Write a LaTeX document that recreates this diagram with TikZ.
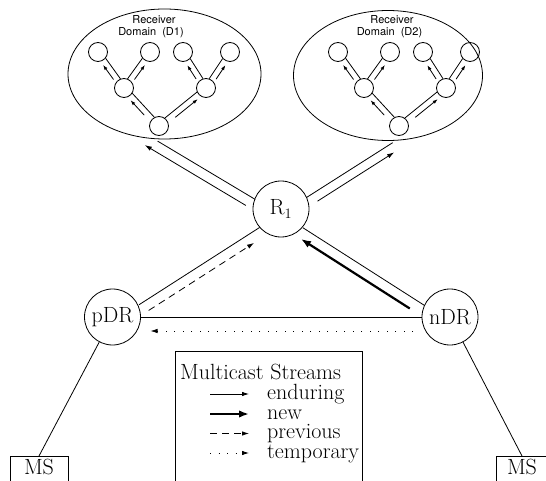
\documentclass[tikz,border=0pt]{standalone}
\usepackage{fontspec}
\newfontfamily\hvfont{TeX Gyre Heros}
\usetikzlibrary{arrows.meta,calc,shapes.geometric}
% #1 style, #2 from, #3 to, #4 offset, #5 angle at start, #6 angle at end, #7/#8 shorten (pt)
\newcommand\offedge[8]{\draw[#1,shorten <=#7pt,shorten >=#8pt] ($(#2)!#4!#5:(#3)$) -- ($(#3)!#4!#6:(#2)$);}
\tikzset{
  big/.style={font=\fontsize{22}{26}\selectfont},
  hub/.style={circle,draw,line width=0.8pt,minimum size=56pt,inner sep=0pt,big},
  tnode/.style={circle,draw,line width=0.8pt,minimum size=19pt,inner sep=0pt},
  dom/.style={ellipse,draw,line width=0.8pt,inner sep=0pt},
  smalltxt/.style={font=\hvfont\fontsize{11}{13}\selectfont},
  thinln/.style={line width=0.8pt},
  hubarrow/.style={line width=0.8pt,-{Latex[length=7pt,width=4.5pt]}},
  treearrow/.style={line width=0.8pt,-{Latex[length=5pt,width=3.5pt]}},
  newarrow/.style={line width=2.2pt,-{Latex[length=10pt,width=7.5pt]}},
  prevarrow/.style={hubarrow,dash pattern=on 7pt off 5pt},
  temparrow/.style={hubarrow,dash pattern=on 1pt off 7.5pt},
  msbox/.style={draw,line width=0.8pt,anchor=north,inner sep=0pt,text height=18pt,text depth=20pt,big}
}
\begin{document}
\begin{tikzpicture}[x=1pt,y=-1pt]
\useasboundingbox (0,0) rectangle (546,481);
\clip (0,0) rectangle (546,481);

% receiver domains
\node[dom,minimum width=193pt,minimum height=130pt] (D1) at (164.5,74) {};
\node[dom,minimum width=189pt,minimum height=130pt] (D2) at (388,75.5) {};
\node[smalltxt] (t1a) at (154,20) {Receiver};
\node[smalltxt] (t1b) at (151,33) {Domain~~(D1)};
\node[smalltxt] (t2a) at (392,20) {Receiver};
\node[smalltxt] (t2b) at (389.5,33) {Domain~~(D2)};

% trees
\foreach \t/\s in {L/0,R/240}{
  \node[tnode] (\t root) at (159+\s,126) {};
  \node[tnode] (\t lm) at (124+\s,88) {};
  \node[tnode] (\t rm) at (206+\s,88) {};
  \node[tnode] (\t a) at (98+\s,52) {};
  \node[tnode] (\t b) at (150+\s,52) {};
  \node[tnode] (\t c) at (183+\s,52) {};
  \node[tnode] (\t d) at (230+\s,52) {};
  % left-going edges
  \offedge{thinln}{\t root}{\t lm}{2.5pt}{-90}{90}{9.5}{9.5}
  \offedge{treearrow}{\t root}{\t lm}{3.5pt}{90}{-90}{18}{13.5}
  \offedge{thinln}{\t lm}{\t a}{2.5pt}{-90}{90}{9.5}{9.5}
  \offedge{treearrow}{\t lm}{\t a}{3.5pt}{90}{-90}{13}{13.5}
  \offedge{thinln}{\t rm}{\t c}{2.5pt}{-90}{90}{9.5}{9.5}
  \offedge{treearrow}{\t rm}{\t c}{3.5pt}{90}{-90}{13}{13.5}
  % right-going edges
  \offedge{thinln}{\t root}{\t rm}{2.5pt}{90}{-90}{9.5}{9.5}
  \offedge{treearrow}{\t root}{\t rm}{3.5pt}{-90}{90}{18}{13.5}
  \offedge{thinln}{\t lm}{\t b}{2.5pt}{90}{-90}{9.5}{9.5}
  \offedge{treearrow}{\t lm}{\t b}{3.5pt}{-90}{90}{13}{13.5}
  \offedge{thinln}{\t rm}{\t d}{2.5pt}{90}{-90}{9.5}{9.5}
  \offedge{treearrow}{\t rm}{\t d}{3.5pt}{-90}{90}{13}{13.5}
}

% hub nodes
\node[hub] (R1) at (281,209) {R$_1$};
\node[hub] (pDR) at (112.5,317) {pDR};
\node[hub] (nDR) at (450,317) {nDR};

% R1 to domains
\offedge{thinln}{R1}{D1.south}{5pt}{90}{-90}{27}{-5}
\offedge{hubarrow}{R1}{D1.south}{15pt}{90}{-90}{32}{-14}
\offedge{thinln}{R1}{D2.south}{4pt}{-90}{90}{28}{-3}
\offedge{hubarrow}{R1}{D2.south}{13pt}{-90}{90}{35}{1}

% pDR -- R1
\offedge{thinln}{pDR}{R1}{4pt}{-90}{90}{29}{28}
\offedge{prevarrow}{pDR}{R1}{14pt}{-90}{90}{34}{41}
% nDR -- R1
\offedge{thinln}{nDR}{R1}{4pt}{90}{-90}{27.5}{28.5}
\offedge{newarrow}{nDR}{R1}{14.5pt}{90}{-90}{38.5}{33}
% nDR -- pDR
\draw[thinln] (nDR) -- (pDR);
\offedge{temparrow}{nDR}{pDR}{14pt}{90}{-90}{37}{38}

% media servers
\node[msbox,minimum width=58pt] (msL) at (39,456) {MS};
\node[msbox,minimum width=52pt] (msR) at (522,456) {MS};
\draw[thinln] (pDR) -- (msL.north);
\draw[thinln] (nDR) -- (msR.north);

% legend
\node[draw,line width=0.8pt,anchor=north west,minimum width=187pt,minimum height=150pt,inner sep=0pt] (legend) at (175,351) {};
\node[big,anchor=base west,inner sep=0pt] (lgt) at (180,379) {Multicast Streams};
\foreach \n/\y/\txt/\sty in {e/399/enduring/hubarrow, n/419/new/newarrow, p/438.5/previous/prevarrow, t/458/temporary/temparrow}{
  \coordinate (\n s) at (210,\y-5);
  \coordinate (\n e) at (249,\y-5);
  \draw[\sty,shorten <=0pt] (\n s) -- (\n e);
  \node[big,anchor=base west,inner sep=0pt] (\n l) at (267,\y) {\txt};
}
\end{tikzpicture}
\end{document}
